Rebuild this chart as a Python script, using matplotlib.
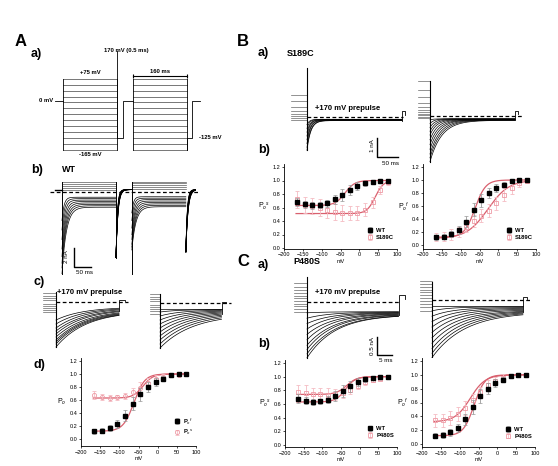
import matplotlib
matplotlib.use('Agg')
import matplotlib.pyplot as plt
import numpy as np

plt.rcParams['font.family'] = ['Liberation Sans', 'DejaVu Sans']
plt.rcParams['mathtext.fontset'] = 'custom'
plt.rcParams['mathtext.rm'] = 'Liberation Sans'
plt.rcParams['mathtext.it'] = 'Liberation Sans:italic'
plt.rcParams['mathtext.bf'] = 'Liberation Sans:bold'

W, H = 558, 466

# ---------------- data ----------------
# voltage protocol (mV, ms)
step_mv = [75, 55, 35, 15, -5, -25, -45, -65, -85, -105, -125, -145, -165]
box1_ms = [0, 160]
box2_ms = [207, 367]
prepulse_mv = 170
tail_mv = -125

# Po-V curves, test potentials (mV)
test_mv = [-165, -145, -125, -105, -85, -65, -45, -25, -5, 15, 35, 55, 75]
wt_pof = [0.12, 0.13, 0.17, 0.23, 0.36, 0.54, 0.69, 0.80, 0.88, 0.93, 0.99, 1.00, 1.00]
wt_pof_err = [0.04, 0.04, 0.05, 0.06, 0.08, 0.10, 0.10, 0.08, 0.06, 0.04, 0.02, 0.02, 0.02]
wt_pos = [0.68, 0.65, 0.63, 0.64, 0.66, 0.72, 0.79, 0.86, 0.92, 0.96, 0.98, 0.99, 1.00]
wt_pos_err = [0.06, 0.05, 0.05, 0.04, 0.05, 0.07, 0.09, 0.08, 0.06, 0.04, 0.03, 0.02, 0.02]
s189c_pos = [0.72, 0.64, 0.62, 0.60, 0.56, 0.53, 0.52, 0.52, 0.52, 0.57, 0.68, 0.86, 0.98]
s189c_pos_err = [0.12, 0.12, 0.12, 0.12, 0.12, 0.12, 0.12, 0.10, 0.10, 0.10, 0.08, 0.06, 0.04]
s189c_pof = [0.12, 0.13, 0.16, 0.20, 0.28, 0.37, 0.45, 0.53, 0.64, 0.77, 0.88, 0.96, 0.99]
s189c_pof_err = [0.06, 0.07, 0.08, 0.08, 0.08, 0.09, 0.10, 0.10, 0.10, 0.10, 0.10, 0.06, 0.03]
p480s_pos = [0.78, 0.76, 0.74, 0.74, 0.73, 0.74, 0.76, 0.80, 0.87, 0.92, 0.95, 0.97, 0.99]
p480s_pos_err = [0.10, 0.12, 0.10, 0.10, 0.10, 0.08, 0.07, 0.06, 0.05, 0.04, 0.03, 0.02, 0.02]
p480s_pof = [0.34, 0.34, 0.37, 0.43, 0.52, 0.63, 0.75, 0.85, 0.91, 0.96, 0.98, 1.00, 1.00]
p480s_pof_err = [0.10, 0.10, 0.10, 0.10, 0.10, 0.10, 0.08, 0.07, 0.06, 0.05, 0.03, 0.02, 0.02]

# Boltzmann fit parameters (bottom, V1/2, slope)
fit_wt_f = (0.12, -62, 14)
fit_wt_s = (0.63, -38, 13)
fit_s189c_s = (0.51, 42, 11)
fit_s189c_f = (0.10, -28, 28)
fit_p480s_s = (0.74, -35, 14)
fit_p480s_f = (0.32, -72, 20)

# WT current family for panel A b (nA), one value per step
ab_ss1 = [1.05, 0.85, 0.65, 0.45, 0.25, -0.55, -0.7, -0.85, -1.0, -1.15, -1.3, -1.45, -1.6]
ab_pk1 = [1.05, 0.85, 0.65, 0.45, 0.25, -3.0, -4.0, -5.0, -6.0, -6.8, -7.5, -8.0, -8.6]
ab_tau1 = [1, 1, 1, 1, 1, 6, 7, 8, 9, 10, 11, 12, 13]
ab_ss2 = [1.1, 0.9, 0.7, 0.5, 0.3, -0.5, -0.65, -0.8, -0.95, -1.1, -1.25, -1.4, -1.55]
ab_pk2 = [1.1, 0.9, 0.7, 0.5, 0.3, -2.2, -3.0, -3.8, -4.5, -5.0, -5.5, -5.8, -6.1]
ab_tau2 = [1, 1, 1, 1, 1, 5, 6, 7, 8, 9, 10, 11, 12]
ab_tail1 = -6.9
ab_tail2 = -6.3

# inward current families (pre-step levels, start, steady state, tau)
ac1_pre = [0.9, 0.6, 0.4, 0.2, -0.2, -0.4, -0.6, -0.8, -1.0]
ac1_pk = [-1.8, -2.2, -2.6, -2.9, -3.2, -3.5, -3.8, -4.0, -4.2, -4.5]
ac1_ss = [-0.5, -0.55, -0.6, -0.65, -0.7, -0.75, -0.8, -0.85, -0.9, -0.9]
ac1_tau = [9, 9, 9, 9.5, 9.5, 10, 10, 10, 10, 10]
ac2_pre = [0.9, 0.6, 0.4, 0.2, -0.2, -0.4, -0.6, -0.8, -1.1]
ac2_pk = [-0.6, -0.9, -1.3, -1.7, -2.1, -2.5, -2.9, -3.3, -3.7, -4.1, -4.5]
ac2_ss = [-0.6, -0.65, -0.7, -0.75, -0.8, -0.85, -0.9, -0.95, -1.0, -1.05, -1.1]
ac2_tau = [6, 6.5, 7, 7.5, 8, 8.5, 9, 9.5, 10, 10.5, 11]

ba1_pre = [1.15, 0.85, 0.55, 0.3, 0.15, 0.05, -0.05, -0.15]
ba1_pk = [-0.4, -0.6, -0.8, -1.0, -1.2, -1.4, -1.6, -1.75]
ba1_ss = [-0.12, -0.13, -0.14, -0.15, -0.16, -0.17, -0.18, -0.19]
ba1_tau = [6, 6, 7, 7, 8, 8, 9, 9]
ba2_pre = [1.85, 1.35, 1.0, 0.7, 0.45, 0.3, 0.2, 0.1, 0.05, -0.05, -0.1]
ba2_pk = [-0.2, -0.4, -0.6, -0.8, -1.0, -1.25, -1.5, -1.75, -2.0, -2.2, -2.4]
ba2_ss = [-0.15, -0.15, -0.16, -0.17, -0.18, -0.19, -0.2, -0.2, -0.21, -0.22, -0.23]
ba2_tau = [8, 10, 12, 14, 16, 18, 20, 22, 24, 26, 28]

ca1_pre = [0.53, 0.42, 0.33, 0.25, 0.17, 0.1, 0.03, -0.05, -0.12, -0.2, -0.28]
ca1_pk = [-0.3, -0.45, -0.6, -0.75, -0.9, -1.05, -1.2, -1.32, -1.44, -1.55]
ca1_ss = [-0.27, -0.28, -0.29, -0.3, -0.31, -0.32, -0.33, -0.34, -0.35, -0.35]
ca1_tau = [7, 7.5, 8, 8, 8.5, 8.5, 9, 9, 9.5, 9.5]
ca2_pre = [0.53, 0.45, 0.37, 0.29, 0.21, 0.13, 0.05, -0.03, -0.11, -0.2, -0.3]
ca2_pk = [-0.17, -0.3, -0.45, -0.6, -0.75, -0.9, -1.05, -1.2, -1.35, -1.48, -1.6]
ca2_ss = [-0.17, -0.19, -0.21, -0.23, -0.25, -0.27, -0.29, -0.3, -0.31, -0.32, -0.33]
ca2_tau = [5, 6, 7, 7.5, 8, 8.5, 9, 9.5, 10, 10.5, 11]

PINK = '#ee9aa5'
PINK_ERR = '#f5bcc3'
FIT = '#d9606e'

fig = plt.figure(figsize=(W / 100, H / 100), dpi=100)


def px_axes(x0, y0, x1, y1):
    ax = fig.add_axes([x0 / W, 1 - y1 / H, (x1 - x0) / W, (y1 - y0) / H])
    return ax


def trace_axes(x0, y0, x1, y1, t0px, px_per_ms, i0px, px_per_na):
    # axes whose data units are ms / nA, origin at pixel (t0px, i0px)
    ax = px_axes(x0, y0, x1, y1)
    ax.set_xlim((x0 - t0px) / px_per_ms, (x1 - t0px) / px_per_ms)
    ax.set_ylim((i0px - y1) / px_per_na, (i0px - y0) / px_per_na)
    ax.axis('off')
    return ax


def txt(x, y, s, **kw):
    kw.setdefault('ha', 'left')
    kw.setdefault('va', 'center')
    fig.text(x / W, 1 - y / H, s, **kw)


def family(ax, pre, pk, ss, tau, t_end, t_pre, top, tail_top, t_tail, dash_end):
    for lv in pre:
        ax.plot([-t_pre, 0], [lv, lv], color='0.4', lw=0.5)
    ax.plot([0, 0], [min(pk), top], color='k', lw=0.8)
    t = np.linspace(0, t_end, 400)
    for p, s, ta in zip(pk, ss, tau):
        ax.plot(t, s + (p - s) * np.exp(-t / ta), color='k', lw=0.5)
    ax.plot([t_end, t_end, t_end + t_tail, t_end + t_tail],
            [min(ss), tail_top, tail_top, tail_top * 0.4], color='k', lw=0.6)
    ax.plot([0, dash_end], [0, 0], color='k', lw=0.9, ls=(0, (3, 2)))


def boltz(v, p):
    b, vh, k = p
    return b + (1 - b) / (1 + np.exp((vh - v) / k))


def po_plot(x0, x1, y0px, y12px, ylab, black, black_err, pink, pink_err,
            fit_b, fit_p, labels, pmark, ylo=-0.05):
    per = (y0px - y12px) / 1.2
    ax = px_axes(x0, y0px - 1.25 * per, x1, y0px - ylo * per)
    ax.set_xlim(-200, 100)
    ax.set_ylim(ylo, 1.25)
    v = np.linspace(-168, 78, 200)
    ax.plot(v, boltz(v, fit_b), color=FIT, lw=0.9, zorder=2)
    ax.plot(v, boltz(v, fit_p), color=FIT, lw=0.9, zorder=2)
    ax.errorbar(test_mv, pink, yerr=pink_err, fmt=pmark, mfc='none', mec=PINK,
                ms=3, mew=0.6, ecolor=PINK_ERR, elinewidth=0.6, capsize=1.2,
                capthick=0.5, label=labels[1], zorder=3)
    ax.errorbar(test_mv, black, yerr=black_err, fmt='s', color='k', ms=2.2,
                ecolor='0.6', elinewidth=0.6, capsize=1.2, capthick=0.5,
                label=labels[0], zorder=4)
    for sp in ('top', 'right'):
        ax.spines[sp].set_visible(False)
    for sp in ('left', 'bottom'):
        ax.spines[sp].set_linewidth(0.6)
    ax.set_xticks([-200, -150, -100, -50, 0, 50, 100])
    ax.set_yticks([0.0, 0.2, 0.4, 0.6, 0.8, 1.0, 1.2])
    ax.set_yticklabels(['0.0', '0.2', '0.4', '0.6', '0.8', '1.0', '1.2'])
    ax.tick_params(labelsize=4, length=1.5, width=0.5, pad=1)
    ax.set_xlabel('mV', fontsize=4, labelpad=1)
    ax.set_ylabel(ylab, fontsize=5, rotation=0, labelpad=6, va='center')
    h, l = ax.get_legend_handles_labels()
    ax.legend(h[::-1], l[::-1], loc='lower right', bbox_to_anchor=(1.02, 0.04),
              frameon=False, handlelength=0.8, handletextpad=0.6,
              labelspacing=0.3, prop={'size': 4.2, 'weight': 'bold'})
    return ax


# ---------------- A a) protocol ----------------
pa = px_axes(40, 40, 225, 165)
pa.set_xlim((40 - 63) / 0.3375, (225 - 63) / 0.3375)
pa.set_ylim((101 - 165) / 0.295, (101 - 40) / 0.295)
pa.axis('off')
lk = dict(color='k', lw=0.6)
for b in (box1_ms, box2_ms):
    for lv in step_mv:
        pa.plot(b, [lv, lv], color='0.25', lw=0.5)
    pa.plot([b[0], b[0]], [min(step_mv), max(step_mv)], **lk)
    pa.plot([b[1], b[1]], [min(step_mv), max(step_mv)], **lk)
pa.plot([-24, 0], [0, 0], **lk)
pa.plot([box1_ms[1], box1_ms[1]], [tail_mv, prepulse_mv], **lk)
pa.plot([box1_ms[1], 178, 178, box2_ms[0]], [tail_mv, tail_mv, 0, 0], **lk)
pa.plot([box2_ms[1], box2_ms[1], 382, 382, 406], [min(step_mv), tail_mv, tail_mv, 0, 0], **lk)
pa.plot(box2_ms, [86, 86], color='k', lw=0.8, marker='|', ms=3, mew=0.8)
tk = dict(fontsize=4.2, fontweight='bold', va='center')
pa.text(-28, 0, '0 mV', ha='right', **tk)
pa.text(80, 95, '+75 mV', ha='center', **tk)
pa.text(80, -183, '-165 mV', ha='center', **tk)
pa.text(187, 171, '170 mV (0.5 ms)', ha='center', **tk)
pa.text(287, 99, '160 ms', ha='center', **tk)
pa.text(403, -125, '-125 mV', ha='left', **tk)

# ---------------- A b) WT currents ----------------
ab = trace_axes(45, 175, 205, 285, 62, 0.3375, 192, 9.5)
t1 = np.linspace(0, 160, 500)
t2 = np.linspace(0, 160, 500)
tt = np.linspace(0, 47, 200)
for k in range(len(step_mv)):
    col = '0.35' if ab_ss1[k] > 0 else 'k'
    i1 = ab_ss1[k] + (ab_pk1[k] - ab_ss1[k]) * np.exp(-t1 / ab_tau1[k])
    ab.plot(t1 + box1_ms[0], i1, color=col, lw=0.5)
    i2 = ab_ss2[k] + (ab_pk2[k] - ab_ss2[k]) * np.exp(-t2 / ab_tau2[k])
    ab.plot(t2 + box2_ms[0], i2, color=col, lw=0.5)
    ab.plot(tt + box1_ms[1], 0.25 + (ab_tail1 - 0.25) * np.exp(-tt / (4 + 0.15 * k)), color='k', lw=0.5)
    ab.plot(tt[:120] + box2_ms[1], 0.25 + (ab_tail2 - 0.25) * np.exp(-tt[:120] / (4 + 0.2 * k)), color='k', lw=0.5)
for b in (box1_ms, box2_ms):
    ab.plot([b[0], b[0]], [min(ab_pk1), max(ab_ss1)], color='k', lw=0.7)
ab.plot([box1_ms[1], box1_ms[1]], [ab_tail1, max(ab_ss1)], color='k', lw=0.7)
ab.plot([-20, 0], [0.25, 0.25], color='k', lw=1.0)
ab.plot([-35, 410], [0, 0], color='k', lw=0.9, ls=(0, (3, 2)))
# scale bar 2 nA / 50 ms
ab.plot([35.6, 35.6, 85.6], [-5.9, -7.9, -7.9], color='k', lw=1.0)
txt(66, 257, '2 nA', fontsize=4.5, rotation=90, ha='center')
txt(85, 273, '50 ms', fontsize=4.5, ha='center')

# ---------------- A c) ----------------
ac1 = trace_axes(40, 285, 135, 352, 56, 3.0, 302, 10.0)
family(ac1, ac1_pre, ac1_pk, ac1_ss, ac1_tau, 21, 4.5, 1.0, 0.2, 2, 24)
ac2 = trace_axes(145, 285, 235, 352, 160, 3.0, 303, 10.0)
family(ac2, ac2_pre, ac2_pk, ac2_ss, ac2_tau, 20.5, 3.5, 0.9, 0.1, 1.5, 23.5)
txt(57, 292, '+170 mV prepulse', fontsize=5.5, fontweight='bold')

# ---------------- A d) ----------------
po_plot(81, 196, 439, 361, r'P$_o$', wt_pof, wt_pof_err, wt_pos, wt_pos_err,
        fit_wt_f, fit_wt_s, [r'P$_o$$^f$', r'P$_o$$^s$'], 'o', ylo=-0.11)

# ---------------- B a) S189C currents ----------------
ba1 = trace_axes(285, 60, 412, 165, 307, 0.42, 117, 19.0)
family(ba1, ba1_pre, ba1_pk, ba1_ss, ba1_tau, 226, 38, 2.6, 0.3, 8, 228)
ba2 = trace_axes(412, 60, 535, 165, 430, 0.42, 116, 19.0)
family(ba2, ba2_pre, ba2_pk, ba2_ss, ba2_tau, 202, 28, 1.85, 0.27, 7, 222)
ba1.plot([167, 167, 217], [-1.1, -2.1, -2.1], color='k', lw=1.0)
txt(372, 146, '1 nA', fontsize=4.5, rotation=90, ha='center')
txt(390, 163, '50 ms', fontsize=4.5, ha='center')
txt(315, 108, '+170 mV prepulse', fontsize=5.5, fontweight='bold')

# ---------------- B b) ----------------
po_plot(284, 397, 248, 167, r'P$_o$$^s$', wt_pos, wt_pos_err, s189c_pos, s189c_pos_err,
        fit_wt_s, fit_s189c_s, ['WT', 'S189C'], 's', ylo=-0.01)
po_plot(423, 536, 245, 167, r'P$_o$$^f$', wt_pof, wt_pof_err, s189c_pof, s189c_pof_err,
        fit_wt_f, fit_s189c_f, ['WT', 'S189C'], 's', ylo=-0.06)

# ---------------- C a) P480S currents ----------------
ca1 = trace_axes(285, 272, 412, 362, 307, 3.0, 302, 36.0)
family(ca1, ca1_pre, ca1_pk, ca1_ss, ca1_tau, 30.5, 4.5, 0.7, 0.2, 2, 31)
ca2 = trace_axes(412, 272, 535, 362, 432, 3.0, 300, 36.0)
family(ca2, ca2_pre, ca2_pk, ca2_ss, ca2_tau, 30.3, 4, 0.5, 0.08, 1.5, 32.7)
ca1.plot([23.3, 23.3, 28.3], [-0.97, -1.47, -1.47], color='k', lw=1.0)
txt(372, 346, '0.5 nA', fontsize=4.5, rotation=90, ha='center')
txt(386, 361, '5 ms', fontsize=4.5, ha='center')
txt(315, 293, '+170 mV prepulse', fontsize=5.5, fontweight='bold')

# ---------------- C b) ----------------
po_plot(285, 397, 445, 363, r'P$_o$$^s$', wt_pos, wt_pos_err, p480s_pos, p480s_pos_err,
        fit_wt_s, fit_p480s_s, ['WT', 'P480S'], 's', ylo=-0.03)
po_plot(422, 535, 444, 361, r'P$_o$$^f$', wt_pof, wt_pof_err, p480s_pof, p480s_pof_err,
        fit_wt_f, fit_p480s_f, ['WT', 'P480S'], 's', ylo=-0.05)

# ---------------- panel letters ----------------
big = dict(fontsize=12, fontweight='bold')
sub = dict(fontsize=9, fontweight='bold')
txt(15, 42, 'A', **big)
txt(31, 54, 'a)', **sub)
txt(31, 170, 'b)', **sub)
txt(62, 170, 'WT', fontsize=6.5, fontweight='bold')
txt(33, 282, 'c)', **sub)
txt(33, 365, 'd)', **sub)
txt(237, 42, 'B', **big)
txt(258, 53, 'a)', **sub)
txt(287, 54, 'S189C', fontsize=6.5, fontweight='bold')
txt(258, 150, 'b)', **sub)
txt(237, 262, 'C', **big)
txt(258, 265, 'a)', **sub)
txt(293, 262, 'P480S', fontsize=6.5, fontweight='bold')
txt(258, 344, 'b)', **sub)

fig.savefig('out.png', dpi=100)
